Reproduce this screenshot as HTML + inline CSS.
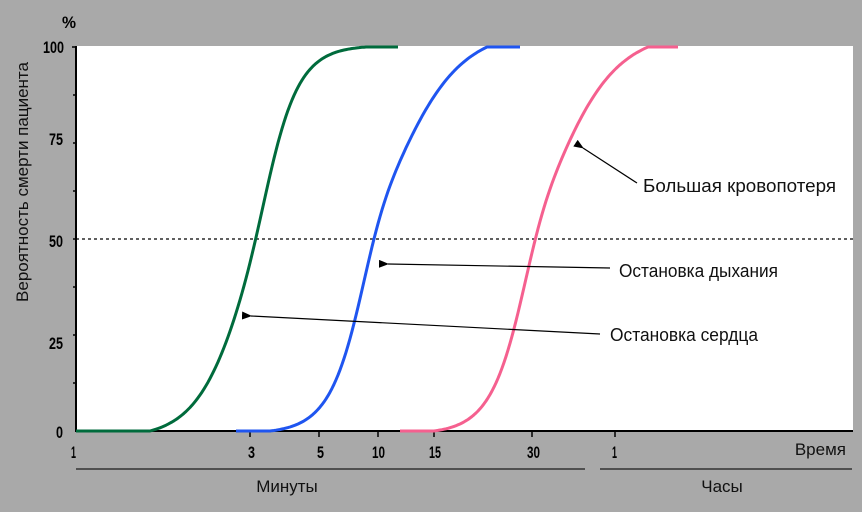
<!DOCTYPE html>
<html><head><meta charset="utf-8"><style>
html,body{margin:0;padding:0;background:#a9a9a9;}
svg{display:block;}
.n{font-family:"Liberation Sans Narrow","Liberation Sans",sans-serif;font-weight:bold;font-size:17px;fill:#000;}
.t{font-family:"Liberation Sans","DejaVu Sans",sans-serif;font-size:17px;fill:#111;}
.b{font-family:"Liberation Sans","DejaVu Sans",sans-serif;font-size:18px;fill:#111;}
</style></head><body>
<svg id="s" width="862" height="512" viewBox="0 0 862 512" xmlns="http://www.w3.org/2000/svg">
<defs><marker id="a" markerWidth="10" markerHeight="8" refX="1" refY="4" orient="auto-start-reverse" markerUnits="userSpaceOnUse"><path d="M0,4 L10,0 L10,8 Z" fill="#000"/></marker></defs>
<rect x="0" y="0" width="862" height="512" fill="#a9a9a9"/>
<rect x="76" y="46" width="777" height="385" fill="#fff"/>
<line x1="76" y1="46" x2="76" y2="431" stroke="#000" stroke-width="2"/>
<line x1="75" y1="431" x2="853" y2="431" stroke="#000" stroke-width="2"/>
<g stroke="#000" stroke-width="1.5">
<line x1="72" y1="47" x2="76" y2="47"/><line x1="73" y1="95" x2="76" y2="95"/><line x1="73" y1="143" x2="76" y2="143"/><line x1="73" y1="191" x2="76" y2="191"/><line x1="73" y1="239" x2="76" y2="239"/><line x1="73" y1="287" x2="76" y2="287"/><line x1="73" y1="335" x2="76" y2="335"/><line x1="73" y1="383" x2="76" y2="383"/>
<line x1="250" y1="431" x2="250" y2="437"/><line x1="319" y1="431" x2="319" y2="437"/><line x1="378" y1="431" x2="378" y2="437"/><line x1="434" y1="431" x2="434" y2="437"/><line x1="532" y1="431" x2="532" y2="437"/><line x1="615" y1="431" x2="615" y2="437"/>
</g>
<line x1="76" y1="239" x2="853" y2="239" stroke="#000" stroke-width="1.3" stroke-dasharray="3,3"/>
<g id="curves" fill="none" stroke-width="3" stroke-linejoin="round"></g>
<g stroke="#000" stroke-width="1.2" fill="none">
<line x1="637" y1="183" x2="583" y2="148" marker-end="url(#a)"/>
<line x1="610" y1="268" x2="388" y2="264" marker-end="url(#a)"/>
<line x1="600" y1="334" x2="251" y2="316" marker-end="url(#a)"/>
</g>
<text class="b" x="643" y="192" textLength="193" lengthAdjust="spacingAndGlyphs">Большая кровопотеря</text>
<text class="b" x="619" y="277" textLength="159" lengthAdjust="spacingAndGlyphs">Остановка дыхания</text>
<text class="b" x="610" y="341" textLength="148" lengthAdjust="spacingAndGlyphs">Остановка сердца</text>
<text class="n" x="62" y="28" textLength="14" lengthAdjust="spacingAndGlyphs">%</text>
<g class="n" text-anchor="end">
<text x="64" y="53" textLength="21" lengthAdjust="spacingAndGlyphs">100</text>
<text x="63" y="145" textLength="14" lengthAdjust="spacingAndGlyphs">75</text>
<text x="63" y="247" textLength="14" lengthAdjust="spacingAndGlyphs">50</text>
<text x="63" y="349" textLength="14" lengthAdjust="spacingAndGlyphs">25</text>
<text x="63" y="438" textLength="7" lengthAdjust="spacingAndGlyphs">0</text>
</g>
<g class="n">
<text x="71" y="458" textLength="5" lengthAdjust="spacingAndGlyphs">1</text>
<text x="248" y="458" textLength="7" lengthAdjust="spacingAndGlyphs">3</text>
<text x="317" y="458" textLength="7" lengthAdjust="spacingAndGlyphs">5</text>
<text x="372" y="458" textLength="13" lengthAdjust="spacingAndGlyphs">10</text>
<text x="429" y="458" textLength="12" lengthAdjust="spacingAndGlyphs">15</text>
<text x="527" y="458" textLength="13" lengthAdjust="spacingAndGlyphs">30</text>
<text x="612" y="458" textLength="5" lengthAdjust="spacingAndGlyphs">1</text>
</g>
<text class="t" x="846" y="455" text-anchor="end">Время</text>
<line x1="76" y1="469" x2="585" y2="469" stroke="#333" stroke-width="1.5"/>
<line x1="600" y1="469" x2="852" y2="469" stroke="#333" stroke-width="1.5"/>
<text class="t" x="287" y="492" text-anchor="middle">Минуты</text>
<text class="t" x="722" y="492" text-anchor="middle">Часы</text>
<text class="t" transform="translate(28,182) rotate(-90)" text-anchor="middle">Вероятность смерти пациента</text>
</svg>
<script>
(function(){
var g=document.getElementById('curves');
var C=[["#006b3c",76,150,255,29,22,366,398],["#1f55f0",236,270,376,23,40,487,520],["#f5608f",400,434,537,23,38,648,678]];
C.forEach(function(c){
 var kL=0.549/c[4],kH=0.549/c[5];
 function f(x){var d=x-c[3];var w=0.5+0.5*Math.tanh(d/25);var k=kL+(kH-kL)*w;return Math.tanh(k*d);}
 var lo=f(c[2]),hi=f(c[6]);
 var d="M"+c[1]+",431 L"+c[2]+",431";
 for(var x=c[2];x<=c[6];x+=2){
  var v=(f(x)-lo)/(hi-lo);
  d+=" L"+x+","+(431-384*v).toFixed(1);
 }
 d+=" L"+c[6]+",47 L"+c[7]+",47";
 var p=document.createElementNS("http://www.w3.org/2000/svg","path");
 p.setAttribute("d",d);p.setAttribute("stroke",c[0]);g.appendChild(p);
});
})();
</script>
</body></html>
